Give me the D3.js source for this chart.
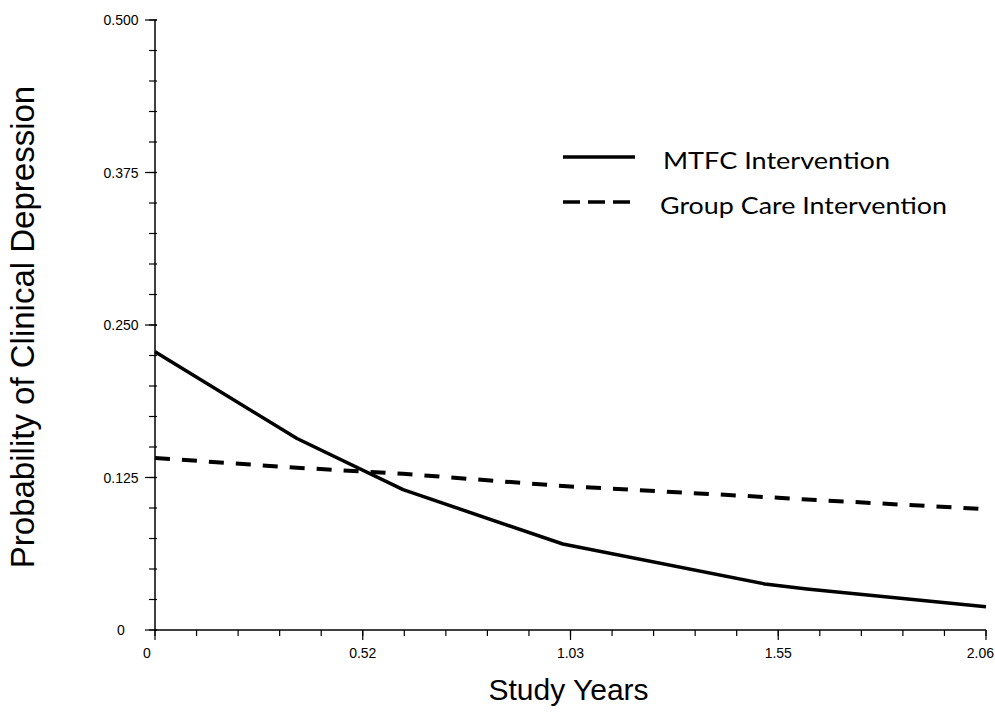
<!DOCTYPE html>
<html>
<head>
<meta charset="utf-8">
<script src="https://cdn.jsdelivr.net/npm/d3@7"></script>
<style>
  body { margin: 0; background: #fff; }
  svg { display: block; }
</style>
</head>
<body>
<div id="chart"></div>
<script>
// data
var years = [0, 0.352, 0.615, 1.011, 1.512, 1.616, 2.06];
var mtfc = [0.228, 0.157, 0.115, 0.0705, 0.0377, 0.0336, 0.019];
var groupCare = [0.141, 0.133, 0.128, 0.118, 0.109, 0.107, 0.099];
var seriesNames = ["MTFC Intervention", "Group Care Intervention"];
var xTicks = [0, 0.515, 1.03, 1.545, 2.06];
var xTickLabels = ["0", "0.52", "1.03", "1.55", "2.06"];
var yTicks = [0, 0.125, 0.25, 0.375, 0.5];
var yTickLabels = ["0", "0.125", "0.250", "0.375", "0.500"];

// set the dimensions and margins of the graph
var margin = {top: 20, right: 9, bottom: 85, left: 155},
    width = 995 - margin.left - margin.right,
    height = 715 - margin.top - margin.bottom;

var svg = d3.select("#chart")
  .append("svg")
    .attr("width", 995)
    .attr("height", 715)
  .append("g")
    .attr("transform", `translate(${margin.left}, ${margin.top})`);

const x = d3.scaleLinear()
  .domain([0, 2.06])
  .range([0, width]);

const y = d3.scaleLinear()
  .domain([0, 0.5])
  .range([height, 0]);

var minorX = d3.range(0, 21).map(i => i * 2.06 / 20);
var minorY = d3.range(0, 21).map(i => i * 0.025);

// X axis
var gx = svg.append("g").attr("transform", `translate(0, ${height})`);
gx.append("line")
  .attr("x1", 0).attr("x2", width)
  .attr("stroke", "#000").attr("stroke-width", 1.5);
gx.selectAll(".minor")
  .data(minorX)
  .join("line")
    .attr("x1", d => x(d)).attr("x2", d => x(d))
    .attr("y1", 0).attr("y2", 6)
    .attr("stroke", "#000").attr("stroke-width", 1.2);
gx.selectAll(".major")
  .data(xTicks)
  .join("line")
    .attr("x1", d => x(d)).attr("x2", d => x(d))
    .attr("y1", 0).attr("y2", 10)
    .attr("stroke", "#000").attr("stroke-width", 1.2);
gx.selectAll("text")
  .data(xTicks)
  .join("text")
    .attr("x", (d, i) => i == 0 ? x(d) - 8 : (i == xTicks.length - 1 ? width + 8 : x(d)))
    .attr("y", 28)
    .attr("text-anchor", (d, i) => i == xTicks.length - 1 ? "end" : "middle")
    .style("font-family", "Liberation Sans, Arial, sans-serif")
    .style("font-size", "14px")
    .text((d, i) => xTickLabels[i]);

// Y axis
var gy = svg.append("g");
gy.append("line")
  .attr("y1", 0).attr("y2", height)
  .attr("stroke", "#000").attr("stroke-width", 1.5);
gy.selectAll(".minor")
  .data(minorY)
  .join("line")
    .attr("y1", d => y(d)).attr("y2", d => y(d))
    .attr("x1", -6).attr("x2", 2)
    .attr("stroke", "#000").attr("stroke-width", 1.2);
gy.selectAll(".major")
  .data(yTicks)
  .join("line")
    .attr("y1", d => y(d)).attr("y2", d => y(d))
    .attr("x1", -10).attr("x2", 2)
    .attr("stroke", "#000").attr("stroke-width", 1.2);
gy.selectAll("text")
  .data(yTicks)
  .join("text")
    .attr("x", -34)
    .attr("y", d => y(d) + 5)
    .attr("text-anchor", "middle")
    .style("font-family", "Liberation Sans, Arial, sans-serif")
    .style("font-size", "14px")
    .text((d, i) => yTickLabels[i]);

// axis titles
svg.append("text")
  .attr("x", x(1.03) - 2)
  .attr("y", height + 70)
  .attr("text-anchor", "middle")
  .style("font-family", "Liberation Sans, Arial, sans-serif")
  .style("font-size", "30px")
  .text("Study Years");

svg.append("text")
  .attr("transform", `translate(-121, ${height / 2 + 2}) rotate(-90)`)
  .attr("text-anchor", "middle")
  .style("font-family", "Liberation Sans, Arial, sans-serif")
  .style("font-size", "33px")
  .text("Probability of Clinical Depression");

// Lines
var line = d3.line()
  .x((d, i) => x(years[i]))
  .y(d => y(d));

svg.append("path")
  .datum(groupCare)
  .attr("fill", "none")
  .attr("stroke", "#000")
  .attr("stroke-width", 4)
  .attr("stroke-dasharray", "15,12")
  .attr("d", line);

svg.append("path")
  .datum(mtfc)
  .attr("fill", "none")
  .attr("stroke", "#000")
  .attr("stroke-width", 3.5)
  .attr("stroke-linejoin", "round")
  .attr("d", line);

// legend
var legend = svg.append("g").attr("transform", "translate(408, 137)");
legend.selectAll("line")
  .data(seriesNames)
  .join("line")
    .attr("x1", 0).attr("x2", 72)
    .attr("y1", (d, i) => i * 45).attr("y2", (d, i) => i * 45)
    .attr("stroke", "#000")
    .attr("stroke-width", 3.5)
    .attr("stroke-dasharray", (d, i) => i == 0 ? null : "17,8");
legend.selectAll("text")
  .data(seriesNames)
  .join("text")
    .attr("x", (d, i) => i == 0 ? 100 : 97)
    .attr("y", (d, i) => i * 45 + 12)
    .style("font-family", "Lato, Open Sans, sans-serif")
    .style("font-size", "24px")
    .attr("textLength", (d, i) => i == 0 ? 227 : 287)
    .attr("lengthAdjust", "spacingAndGlyphs")
    .text(d => d);
</script>
</body>
</html>
